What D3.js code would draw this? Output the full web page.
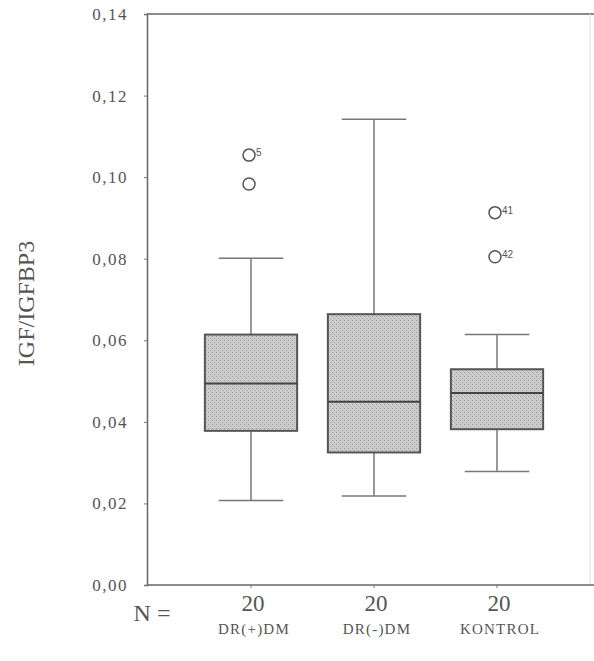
<!DOCTYPE html>
<html>
<head>
<meta charset="utf-8">
<script src="https://cdn.jsdelivr.net/npm/d3@7"></script>
<style>
  body { margin: 0; background: #fff; }
  svg text { font-family: "Liberation Serif", "DejaVu Serif", serif; fill: #555; }
</style>
</head>
<body>
<svg id="chart"></svg>
<script>
const groups = ["DR(+)DM", "DR(-)DM", "KONTROL"];
const counts = [20, 20, 20];
const q1 = [0.0378, 0.0325, 0.0382];
const medians = [0.0494, 0.0449, 0.0471];
const q3 = [0.0614, 0.0664, 0.0529];
const whiskerLow = [0.0207, 0.0218, 0.0278];
const whiskerHigh = [0.0801, 0.1142, 0.0614];
const outliers = [
    { group: "DR(+)DM", value: 0.1054, label: "5" },
    { group: "DR(+)DM", value: 0.0983, label: "" },
    { group: "KONTROL", value: 0.0913, label: "41" },
    { group: "KONTROL", value: 0.0805, label: "42" },
];
const yTicks = [0, 0.02, 0.04, 0.06, 0.08, 0.1, 0.12, 0.14];

const width = 594,
    height = 661;
const plotLeft = 147,
    plotRight = 590,
    plotTop = 14,
    plotBottom = 585;

const svg = d3.select("#chart").attr("width", width).attr("height", height);

const yScale = d3.scaleLinear().domain([0, 0.14]).range([plotBottom, plotTop]);
const xScale = d3
    .scaleBand()
    .domain(groups)
    .range([189.5, 558.5])
    .paddingInner(0.25)
    .paddingOuter(0.125);

// stipple pattern for box fill
const defs = svg.append("defs");
const pat = defs
    .append("pattern")
    .attr("id", "stipple")
    .attr("width", 4)
    .attr("height", 4)
    .attr("patternUnits", "userSpaceOnUse");
pat.append("rect").attr("width", 4).attr("height", 4).attr("fill", "#cbcbcb");
pat.append("rect").attr("x", 0).attr("y", 0).attr("width", 1).attr("height", 1).attr("fill", "#9a9a9a");
pat.append("rect").attr("x", 2).attr("y", 2).attr("width", 1).attr("height", 1).attr("fill", "#a8a8a8");

// frame
svg.append("line")
    .attr("x1", plotLeft).attr("x2", width)
    .attr("y1", plotTop).attr("y2", plotTop)
    .attr("stroke", "#666").attr("stroke-width", 1.5);
svg.append("line")
    .attr("x1", plotRight).attr("x2", plotRight)
    .attr("y1", plotTop).attr("y2", plotBottom)
    .attr("stroke", "#ddd").attr("stroke-width", 1);

// y axis
const yAxis = d3
    .axisLeft(yScale)
    .tickValues(yTicks)
    .tickSize(3)
    .tickFormat((d) => d3.format(".2f")(d).replace(".", ","));
const gy = svg.append("g").attr("transform", `translate(${plotLeft},0)`).call(yAxis);
gy.select(".domain").attr("stroke", "#666").attr("stroke-width", 1.5);
gy.selectAll(".tick line").attr("stroke", "#777");
gy.selectAll(".tick text")
    .attr("x", -19)
    .attr("font-size", 17)
    .attr("letter-spacing", 1.5)
    .style("font-family", "Liberation Serif, serif")
    .attr("fill", "#666");

// x axis
const xAxis = d3.axisBottom(xScale).tickSize(3).tickFormat("");
const gx = svg.append("g").attr("transform", `translate(0,${plotBottom})`).call(xAxis);
gx.select(".domain").remove();
gx.selectAll(".tick line").attr("stroke", "#777");
svg.append("line")
    .attr("x1", plotLeft).attr("x2", width)
    .attr("y1", plotBottom).attr("y2", plotBottom)
    .attr("stroke", "#666").attr("stroke-width", 1.5);

// y title
svg.append("text")
    .attr("transform", `translate(34,${(plotTop + plotBottom) / 2 + 4}) rotate(-90)`)
    .attr("text-anchor", "middle")
    .attr("font-size", 24)
    .text("IGF/IGFBP3");

// N labels
svg.append("text")
    .attr("x", 152).attr("y", 621)
    .attr("text-anchor", "middle")
    .attr("font-size", 24)
    .text("N =");

const cx = (g) => xScale(g) + xScale.bandwidth() / 2;

svg.selectAll(".nlab")
    .data(groups)
    .enter()
    .append("text")
    .attr("class", "nlab")
    .attr("x", (g) => cx(g) + 2)
    .attr("y", 611)
    .attr("text-anchor", "middle")
    .attr("font-size", 23)
    .text((g, i) => counts[i]);

svg.selectAll(".glab")
    .data(groups)
    .enter()
    .append("text")
    .attr("class", "glab")
    .attr("x", (g) => cx(g) + 3)
    .attr("y", 634)
    .attr("text-anchor", "middle")
    .attr("font-size", 15)
    .attr("letter-spacing", 1.2)
    .attr("fill", "#666")
    .text((g) => g);

// whiskers
const capW = xScale.bandwidth() * 0.7;
const boxes = svg.selectAll(".box").data(groups).enter().append("g").attr("class", "box");

boxes.append("line")
    .attr("x1", cx).attr("x2", cx)
    .attr("y1", (g, i) => yScale(whiskerHigh[i]))
    .attr("y2", (g, i) => yScale(whiskerLow[i]))
    .attr("stroke", "#777").attr("stroke-width", 1.5);
boxes.append("line")
    .attr("x1", (g) => cx(g) - capW / 2).attr("x2", (g) => cx(g) + capW / 2)
    .attr("y1", (g, i) => yScale(whiskerHigh[i]))
    .attr("y2", (g, i) => yScale(whiskerHigh[i]))
    .attr("stroke", "#777").attr("stroke-width", 1.5);
boxes.append("line")
    .attr("x1", (g) => cx(g) - capW / 2).attr("x2", (g) => cx(g) + capW / 2)
    .attr("y1", (g, i) => yScale(whiskerLow[i]))
    .attr("y2", (g, i) => yScale(whiskerLow[i]))
    .attr("stroke", "#777").attr("stroke-width", 1.5);

boxes.append("rect")
    .attr("x", (g) => xScale(g))
    .attr("width", xScale.bandwidth())
    .attr("y", (g, i) => yScale(q3[i]))
    .attr("height", (g, i) => yScale(q1[i]) - yScale(q3[i]))
    .attr("fill", "url(#stipple)")
    .attr("stroke", "#555").attr("stroke-width", 2);
boxes.append("line")
    .attr("x1", (g) => xScale(g)).attr("x2", (g) => xScale(g) + xScale.bandwidth())
    .attr("y1", (g, i) => yScale(medians[i]))
    .attr("y2", (g, i) => yScale(medians[i]))
    .attr("stroke", "#444").attr("stroke-width", 2);

// outliers
svg.selectAll(".out")
    .data(outliers)
    .enter()
    .append("circle")
    .attr("class", "out")
    .attr("cx", (d) => cx(d.group) - 2)
    .attr("cy", (d) => yScale(d.value))
    .attr("r", 6)
    .attr("fill", "none")
    .attr("stroke", "#555").attr("stroke-width", 1.5);
svg.selectAll(".outlab")
    .data(outliers)
    .enter()
    .append("text")
    .attr("class", "outlab")
    .attr("x", (d) => cx(d.group) + 5)
    .attr("y", (d) => yScale(d.value) + 1)
    .attr("font-size", 10)
    .style("font-family", "Liberation Sans, sans-serif")
    .attr("fill", "#777")
    .text((d) => d.label);
</script>
</body>
</html>
